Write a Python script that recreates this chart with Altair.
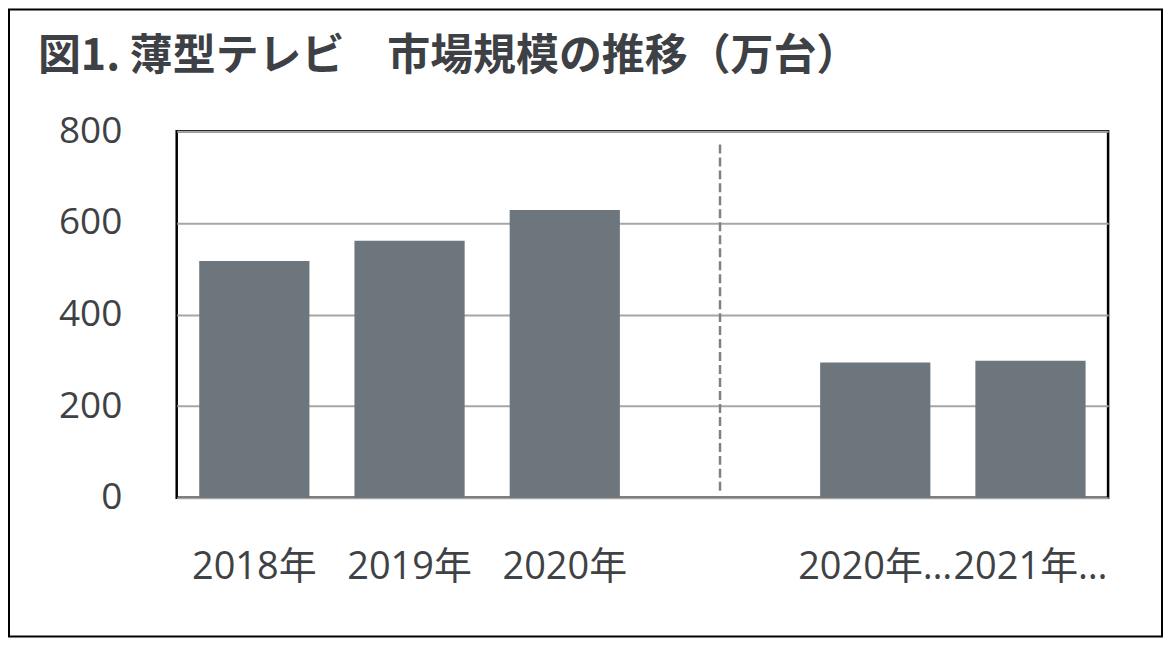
import altair as alt
import pandas as pd

# ---- data ----
categories = ["2018年", "2019年", "2020年", " ", "2020年…", "2021年…"]
bar_categories = ["2018年", "2019年", "2020年", "2020年…", "2021年…"]
values = [517, 561, 628, 295, 299]
y_ticks = [0, 200, 400, 600, 800]
divider_category = [" "]
divider_from = [15]
divider_to = [775]
title_text = "図1. 薄型テレビ　市場規模の推移（万台）"

bars_df = pd.DataFrame({"cat": bar_categories, "value": values})
div_df = pd.DataFrame({"cat": divider_category, "y0": divider_from, "y1": divider_to})

TEXT = "#3f4245"
LABEL_FONT = "Open Sans, Noto Sans CJK JP, sans-serif"

xscale = alt.Scale(domain=categories, paddingInner=0.29, paddingOuter=0.145)
yscale = alt.Scale(domain=[0, 800], nice=False)

bars = alt.Chart(bars_df).mark_bar(color="#6c767c").encode(
    x=alt.X("cat:N", scale=xscale,
            axis=alt.Axis(title=None, labelAngle=0, ticks=False, domain=False,
                          labelPadding=51, labelFontSize=38, labelColor=TEXT,
                          labelFont=LABEL_FONT, labelLimit=300)),
    y=alt.Y("value:Q", scale=yscale,
            axis=alt.Axis(title=None, values=y_ticks, ticks=False, domain=False,
                          labelPadding=55, labelFontSize=37, labelColor=TEXT,
                          labelFont=LABEL_FONT, labelFlush=False,
                          gridColor="#a6a6a6", gridWidth=2)),
)

divider = alt.Chart(div_df).mark_rule(
    strokeDash=[9, 4], strokeWidth=2.5, color="#7a8389"
).encode(
    x=alt.X("cat:N", scale=xscale),
    y=alt.Y("y0:Q", scale=yscale),
    y2="y1:Q",
)

frame = alt.Chart(pd.DataFrame({"a": [0]})).mark_rect(
    fill="transparent", stroke="#000000", strokeWidth=2
).encode(
    x=alt.value(-168), x2=alt.value(987), y=alt.value(-122), y2=alt.value(506)
)

title = alt.Chart(pd.DataFrame({"t": [title_text]})).mark_text(
    align="left", baseline="middle", fontSize=43, font="Noto Sans CJK JP",
    fontWeight="bold", color="#3d4044"
).encode(
    text="t:N", x=alt.value(-139), y=alt.value(-74)
)

chart = alt.layer(bars, divider, frame, title).properties(
    width=933,
    height=367,
    autosize=alt.AutoSizeParams(type="none"),
    padding={"left": 169, "top": 123, "right": 55, "bottom": 140},
    background="white",
).configure_view(stroke="#000000", strokeWidth=2.5)

chart.save("out.html", embed_options={"renderer": "svg", "actions": False})
